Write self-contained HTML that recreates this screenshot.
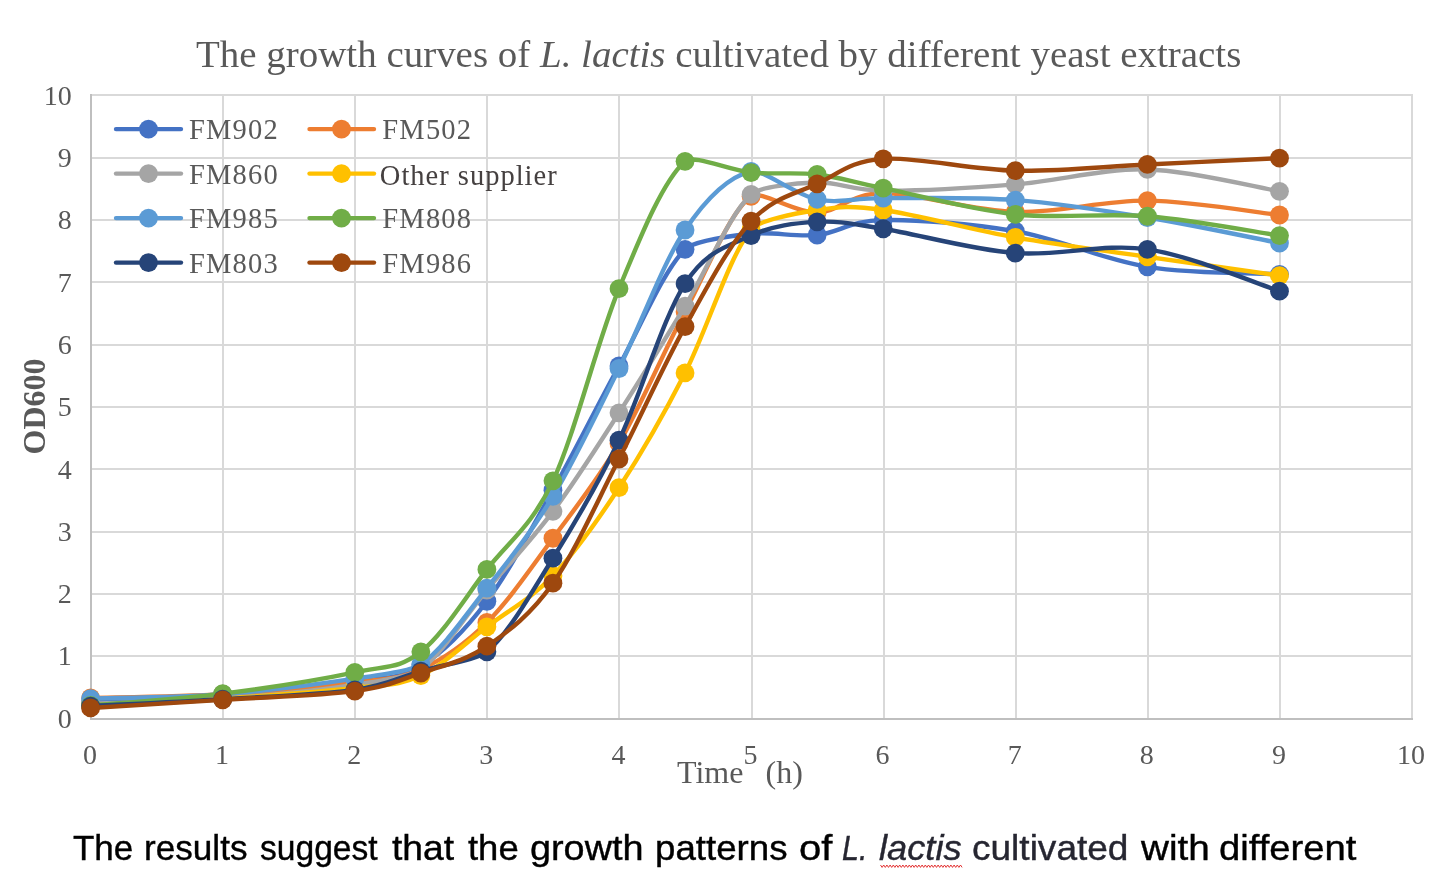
<!DOCTYPE html>
<html><head><meta charset="utf-8"><style>
html,body{margin:0;padding:0;background:#fff;}
body{width:1452px;height:886px;overflow:hidden;position:relative;}
svg.ch{position:absolute;left:0;top:0;will-change:transform;}
.serif{font-family:"Liberation Serif",serif;}
.lg{font-family:"Liberation Serif",serif;font-size:28.5px;fill:#595959;letter-spacing:1.2px;}
.cw{position:absolute;top:826.5px;font-family:"Liberation Sans",sans-serif;font-size:34.8px;line-height:42px;color:#000;white-space:nowrap;transform-origin:0 0;-webkit-text-stroke:0.4px currentColor;}
</style></head><body>
<svg class="ch" width="1452" height="886" viewBox="0 0 1452 886">
<text class="serif" x="196" y="67.2" font-size="38.96" fill="#595959">The growth curves of <tspan font-style="italic">L. lactis</tspan> cultivated by different yeast extracts</text>
<g stroke="#d9d9d9" stroke-width="2" fill="none">
<line x1="92.00" y1="656.00" x2="1413.00" y2="656.00"/>
<line x1="92.00" y1="594.00" x2="1413.00" y2="594.00"/>
<line x1="92.00" y1="532.00" x2="1413.00" y2="532.00"/>
<line x1="92.00" y1="469.00" x2="1413.00" y2="469.00"/>
<line x1="92.00" y1="407.00" x2="1413.00" y2="407.00"/>
<line x1="92.00" y1="345.00" x2="1413.00" y2="345.00"/>
<line x1="92.00" y1="282.00" x2="1413.00" y2="282.00"/>
<line x1="92.00" y1="220.00" x2="1413.00" y2="220.00"/>
<line x1="92.00" y1="158.00" x2="1413.00" y2="158.00"/>
<line x1="92.00" y1="95.00" x2="1413.00" y2="95.00"/>
<line x1="223.00" y1="94.00" x2="223.00" y2="719.00"/>
<line x1="355.00" y1="94.00" x2="355.00" y2="719.00"/>
<line x1="487.00" y1="94.00" x2="487.00" y2="719.00"/>
<line x1="619.00" y1="94.00" x2="619.00" y2="719.00"/>
<line x1="752.00" y1="94.00" x2="752.00" y2="719.00"/>
<line x1="884.00" y1="94.00" x2="884.00" y2="719.00"/>
<line x1="1016.00" y1="94.00" x2="1016.00" y2="719.00"/>
<line x1="1148.00" y1="94.00" x2="1148.00" y2="719.00"/>
<line x1="1280.00" y1="94.00" x2="1280.00" y2="719.00"/>
<line x1="1412.00" y1="94.00" x2="1412.00" y2="719.00"/>
</g>
<g stroke="#bfbfbf" stroke-width="2">
<line x1="91" y1="94.00" x2="91" y2="720"/>
<line x1="90" y1="719" x2="1413.00" y2="719"/>
</g>
<g class="serif" font-size="28" fill="#595959" text-anchor="end">
<text x="71.8" y="727.80">0</text>
<text x="71.8" y="665.49">1</text>
<text x="71.8" y="603.18">2</text>
<text x="71.8" y="540.87">3</text>
<text x="71.8" y="478.56">4</text>
<text x="71.8" y="416.25">5</text>
<text x="71.8" y="353.94">6</text>
<text x="71.8" y="291.63">7</text>
<text x="71.8" y="229.32">8</text>
<text x="71.8" y="167.01">9</text>
<text x="71.8" y="104.70">10</text>
</g>
<g class="serif" font-size="28" fill="#595959" text-anchor="middle">
<text x="90.00" y="764">0</text>
<text x="222.10" y="764">1</text>
<text x="354.20" y="764">2</text>
<text x="486.30" y="764">3</text>
<text x="618.40" y="764">4</text>
<text x="750.50" y="764">5</text>
<text x="882.60" y="764">6</text>
<text x="1014.70" y="764">7</text>
<text x="1146.80" y="764">8</text>
<text x="1278.90" y="764">9</text>
<text x="1411.00" y="764">10</text>
</g>
<text class="serif" x="677" y="783.2" font-size="32" fill="#595959">Time</text>
<text class="serif" x="765.5" y="783.2" font-size="32" fill="#595959">(h)</text>
<text class="serif" transform="translate(45.2,406.4) rotate(-90)" text-anchor="middle" font-size="32" font-weight="bold" fill="#595959">OD600</text>
<g fill="none" stroke-width="4.4" stroke-linecap="round" stroke-linejoin="round">
<path d="M90.60 702.35 C112.62 701.52 178.67 700.79 222.70 697.36 C266.73 693.93 321.77 686.96 354.80 681.76 C387.82 676.56 398.83 679.58 420.85 666.16 C442.87 652.74 464.88 630.59 486.90 601.26 C508.92 571.94 530.93 529.40 552.95 490.19 C574.97 450.98 596.98 406.16 619.00 366.02 C641.02 325.87 663.03 271.38 685.05 249.33 C693.04 241.32 729.08 236.12 751.10 233.73 C773.12 231.34 795.13 237.26 817.15 234.98 C839.17 232.69 850.17 220.62 883.20 220.00 C916.22 219.38 971.27 223.43 1015.30 231.23 C1059.33 239.03 1103.37 259.62 1147.40 266.80 C1191.43 273.98 1257.48 273.04 1279.50 274.29" stroke="#4472C4"/>
<circle cx="90.60" cy="702.35" r="9.4" fill="#4472C4"/>
<circle cx="222.70" cy="697.36" r="9.4" fill="#4472C4"/>
<circle cx="354.80" cy="681.76" r="9.4" fill="#4472C4"/>
<circle cx="420.85" cy="666.16" r="9.4" fill="#4472C4"/>
<circle cx="486.90" cy="601.26" r="9.4" fill="#4472C4"/>
<circle cx="552.95" cy="490.19" r="9.4" fill="#4472C4"/>
<circle cx="619.00" cy="366.02" r="9.4" fill="#4472C4"/>
<circle cx="685.05" cy="249.33" r="9.4" fill="#4472C4"/>
<circle cx="751.10" cy="233.73" r="9.4" fill="#4472C4"/>
<circle cx="817.15" cy="234.98" r="9.4" fill="#4472C4"/>
<circle cx="883.20" cy="220.00" r="9.4" fill="#4472C4"/>
<circle cx="1015.30" cy="231.23" r="9.4" fill="#4472C4"/>
<circle cx="1147.40" cy="266.80" r="9.4" fill="#4472C4"/>
<circle cx="1279.50" cy="274.29" r="9.4" fill="#4472C4"/>
<path d="M90.60 697.98 C112.62 697.36 178.67 696.84 222.70 694.24 C266.73 691.64 321.77 686.54 354.80 682.38 C387.82 678.22 398.83 679.26 420.85 669.28 C442.87 659.30 464.88 644.32 486.90 622.48 C508.92 600.64 530.93 568.09 552.95 538.24 C574.97 508.39 596.98 481.14 619.00 443.39 C641.02 405.64 663.03 352.91 685.05 311.73 C707.07 270.54 729.08 212.82 751.10 196.29 C760.17 189.48 795.13 213.03 817.15 212.51 C839.17 211.99 850.17 193.27 883.20 193.17 C916.22 193.06 971.27 210.64 1015.30 211.89 C1059.33 213.14 1103.37 200.14 1147.40 200.66 C1191.43 201.18 1257.48 212.62 1279.50 215.01" stroke="#ED7D31"/>
<circle cx="90.60" cy="697.98" r="9.4" fill="#ED7D31"/>
<circle cx="222.70" cy="694.24" r="9.4" fill="#ED7D31"/>
<circle cx="354.80" cy="682.38" r="9.4" fill="#ED7D31"/>
<circle cx="420.85" cy="669.28" r="9.4" fill="#ED7D31"/>
<circle cx="486.90" cy="622.48" r="9.4" fill="#ED7D31"/>
<circle cx="552.95" cy="538.24" r="9.4" fill="#ED7D31"/>
<circle cx="619.00" cy="443.39" r="9.4" fill="#ED7D31"/>
<circle cx="685.05" cy="311.73" r="9.4" fill="#ED7D31"/>
<circle cx="751.10" cy="196.29" r="9.4" fill="#ED7D31"/>
<circle cx="817.15" cy="212.51" r="9.4" fill="#ED7D31"/>
<circle cx="883.20" cy="193.17" r="9.4" fill="#ED7D31"/>
<circle cx="1015.30" cy="211.89" r="9.4" fill="#ED7D31"/>
<circle cx="1147.40" cy="200.66" r="9.4" fill="#ED7D31"/>
<circle cx="1279.50" cy="215.01" r="9.4" fill="#ED7D31"/>
<path d="M90.60 703.60 C112.62 702.77 178.67 701.73 222.70 698.61 C266.73 695.49 321.77 689.77 354.80 684.88 C387.82 679.99 411.66 675.88 420.85 669.28 C442.87 653.47 464.88 616.34 486.90 590.03 C508.92 563.72 530.93 540.94 552.95 511.41 C574.97 481.87 596.98 447.03 619.00 412.82 C641.02 378.60 663.03 342.51 685.05 306.11 C707.07 269.71 729.08 215.01 751.10 194.42 C759.27 186.77 795.13 183.18 817.15 182.56 C839.17 181.94 850.17 190.36 883.20 190.67 C916.22 190.98 971.27 187.97 1015.30 184.43 C1059.33 180.90 1103.37 168.31 1147.40 169.46 C1191.43 170.60 1257.48 187.66 1279.50 191.30" stroke="#A5A5A5"/>
<circle cx="90.60" cy="703.60" r="9.4" fill="#A5A5A5"/>
<circle cx="222.70" cy="698.61" r="9.4" fill="#A5A5A5"/>
<circle cx="354.80" cy="684.88" r="9.4" fill="#A5A5A5"/>
<circle cx="420.85" cy="669.28" r="9.4" fill="#A5A5A5"/>
<circle cx="486.90" cy="590.03" r="9.4" fill="#A5A5A5"/>
<circle cx="552.95" cy="511.41" r="9.4" fill="#A5A5A5"/>
<circle cx="619.00" cy="412.82" r="9.4" fill="#A5A5A5"/>
<circle cx="685.05" cy="306.11" r="9.4" fill="#A5A5A5"/>
<circle cx="751.10" cy="194.42" r="9.4" fill="#A5A5A5"/>
<circle cx="817.15" cy="182.56" r="9.4" fill="#A5A5A5"/>
<circle cx="883.20" cy="190.67" r="9.4" fill="#A5A5A5"/>
<circle cx="1015.30" cy="184.43" r="9.4" fill="#A5A5A5"/>
<circle cx="1147.40" cy="169.46" r="9.4" fill="#A5A5A5"/>
<circle cx="1279.50" cy="191.30" r="9.4" fill="#A5A5A5"/>
<path d="M90.60 705.47 C112.62 704.33 178.67 701.52 222.70 698.61 C266.73 695.70 321.77 691.85 354.80 688.00 C387.82 684.15 398.83 685.71 420.85 675.52 C442.87 665.33 464.88 643.49 486.90 626.85 C508.92 610.21 530.93 598.87 552.95 575.68 C574.97 552.49 596.98 521.50 619.00 487.70 C641.02 453.90 663.03 415.94 685.05 372.88 C707.07 329.82 729.08 256.50 751.10 229.36 C758.33 220.45 795.13 213.24 817.15 210.02 C839.17 206.79 850.17 205.44 883.20 210.02 C916.22 214.59 971.27 229.67 1015.30 237.47 C1059.33 245.27 1103.37 250.47 1147.40 256.82 C1191.43 263.16 1257.48 272.42 1279.50 275.54" stroke="#FFC000"/>
<circle cx="90.60" cy="705.47" r="9.4" fill="#FFC000"/>
<circle cx="222.70" cy="698.61" r="9.4" fill="#FFC000"/>
<circle cx="354.80" cy="688.00" r="9.4" fill="#FFC000"/>
<circle cx="420.85" cy="675.52" r="9.4" fill="#FFC000"/>
<circle cx="486.90" cy="626.85" r="9.4" fill="#FFC000"/>
<circle cx="552.95" cy="575.68" r="9.4" fill="#FFC000"/>
<circle cx="619.00" cy="487.70" r="9.4" fill="#FFC000"/>
<circle cx="685.05" cy="372.88" r="9.4" fill="#FFC000"/>
<circle cx="751.10" cy="229.36" r="9.4" fill="#FFC000"/>
<circle cx="817.15" cy="210.02" r="9.4" fill="#FFC000"/>
<circle cx="883.20" cy="210.02" r="9.4" fill="#FFC000"/>
<circle cx="1015.30" cy="237.47" r="9.4" fill="#FFC000"/>
<circle cx="1147.40" cy="256.82" r="9.4" fill="#FFC000"/>
<circle cx="1279.50" cy="275.54" r="9.4" fill="#FFC000"/>
<path d="M90.60 698.61 C112.62 697.88 178.67 697.57 222.70 694.24 C266.73 690.91 321.77 683.63 354.80 678.64 C387.82 673.65 411.55 670.66 420.85 664.29 C442.87 649.21 464.88 616.14 486.90 588.16 C508.92 560.18 530.93 533.04 552.95 496.43 C574.97 459.82 596.98 412.92 619.00 368.51 C641.02 324.10 663.03 262.85 685.05 229.98 C707.07 197.12 729.08 176.42 751.10 171.33 C762.76 168.63 795.13 194.94 817.15 199.41 C839.17 203.88 850.17 198.06 883.20 198.16 C916.22 198.26 971.27 196.81 1015.30 200.03 C1059.33 203.26 1103.37 210.33 1147.40 217.50 C1191.43 224.68 1257.48 238.82 1279.50 243.09" stroke="#5B9BD5"/>
<circle cx="90.60" cy="698.61" r="9.4" fill="#5B9BD5"/>
<circle cx="222.70" cy="694.24" r="9.4" fill="#5B9BD5"/>
<circle cx="354.80" cy="678.64" r="9.4" fill="#5B9BD5"/>
<circle cx="420.85" cy="664.29" r="9.4" fill="#5B9BD5"/>
<circle cx="486.90" cy="588.16" r="9.4" fill="#5B9BD5"/>
<circle cx="552.95" cy="496.43" r="9.4" fill="#5B9BD5"/>
<circle cx="619.00" cy="368.51" r="9.4" fill="#5B9BD5"/>
<circle cx="685.05" cy="229.98" r="9.4" fill="#5B9BD5"/>
<circle cx="751.10" cy="171.33" r="9.4" fill="#5B9BD5"/>
<circle cx="817.15" cy="199.41" r="9.4" fill="#5B9BD5"/>
<circle cx="883.20" cy="198.16" r="9.4" fill="#5B9BD5"/>
<circle cx="1015.30" cy="200.03" r="9.4" fill="#5B9BD5"/>
<circle cx="1147.40" cy="217.50" r="9.4" fill="#5B9BD5"/>
<circle cx="1279.50" cy="243.09" r="9.4" fill="#5B9BD5"/>
<path d="M90.60 705.47 C112.62 703.50 178.67 699.13 222.70 693.62 C266.73 688.10 321.77 679.37 354.80 672.40 C387.82 665.43 398.83 668.97 420.85 651.81 C442.87 634.65 464.88 597.94 486.90 569.44 C508.92 540.94 530.93 527.63 552.95 480.83 C574.97 434.03 596.98 341.89 619.00 288.64 C641.02 235.39 663.03 180.69 685.05 161.34 C693.44 153.97 729.08 170.39 751.10 172.58 C773.12 174.76 795.13 171.85 817.15 174.45 C839.17 177.05 850.17 181.52 883.20 188.18 C916.22 194.83 971.27 209.70 1015.30 214.38 C1059.33 219.06 1103.37 212.72 1147.40 216.26 C1191.43 219.79 1257.48 232.38 1279.50 235.60" stroke="#70AD47"/>
<circle cx="90.60" cy="705.47" r="9.4" fill="#70AD47"/>
<circle cx="222.70" cy="693.62" r="9.4" fill="#70AD47"/>
<circle cx="354.80" cy="672.40" r="9.4" fill="#70AD47"/>
<circle cx="420.85" cy="651.81" r="9.4" fill="#70AD47"/>
<circle cx="486.90" cy="569.44" r="9.4" fill="#70AD47"/>
<circle cx="552.95" cy="480.83" r="9.4" fill="#70AD47"/>
<circle cx="619.00" cy="288.64" r="9.4" fill="#70AD47"/>
<circle cx="685.05" cy="161.34" r="9.4" fill="#70AD47"/>
<circle cx="751.10" cy="172.58" r="9.4" fill="#70AD47"/>
<circle cx="817.15" cy="174.45" r="9.4" fill="#70AD47"/>
<circle cx="883.20" cy="188.18" r="9.4" fill="#70AD47"/>
<circle cx="1015.30" cy="214.38" r="9.4" fill="#70AD47"/>
<circle cx="1147.40" cy="216.26" r="9.4" fill="#70AD47"/>
<circle cx="1279.50" cy="235.60" r="9.4" fill="#70AD47"/>
<path d="M90.60 706.10 C112.62 704.95 178.67 701.94 222.70 699.23 C266.73 696.53 321.77 694.55 354.80 689.87 C387.82 685.19 398.83 677.50 420.85 671.15 C442.87 664.81 478.18 659.26 486.90 651.81 C508.92 632.98 530.93 593.46 552.95 558.21 C574.97 522.95 596.98 486.03 619.00 440.27 C641.02 394.51 663.03 317.76 685.05 283.65 C707.07 249.54 729.08 245.90 751.10 235.60 C773.12 225.30 795.13 223.02 817.15 221.87 C839.17 220.73 850.17 223.54 883.20 228.74 C916.22 233.94 971.27 249.64 1015.30 253.07 C1059.33 256.50 1103.37 242.98 1147.40 249.33 C1191.43 255.67 1257.48 284.17 1279.50 291.14" stroke="#264478"/>
<circle cx="90.60" cy="706.10" r="9.4" fill="#264478"/>
<circle cx="222.70" cy="699.23" r="9.4" fill="#264478"/>
<circle cx="354.80" cy="689.87" r="9.4" fill="#264478"/>
<circle cx="420.85" cy="671.15" r="9.4" fill="#264478"/>
<circle cx="486.90" cy="651.81" r="9.4" fill="#264478"/>
<circle cx="552.95" cy="558.21" r="9.4" fill="#264478"/>
<circle cx="619.00" cy="440.27" r="9.4" fill="#264478"/>
<circle cx="685.05" cy="283.65" r="9.4" fill="#264478"/>
<circle cx="751.10" cy="235.60" r="9.4" fill="#264478"/>
<circle cx="817.15" cy="221.87" r="9.4" fill="#264478"/>
<circle cx="883.20" cy="228.74" r="9.4" fill="#264478"/>
<circle cx="1015.30" cy="253.07" r="9.4" fill="#264478"/>
<circle cx="1147.40" cy="249.33" r="9.4" fill="#264478"/>
<circle cx="1279.50" cy="291.14" r="9.4" fill="#264478"/>
<path d="M90.60 707.97 C112.62 706.62 178.67 702.66 222.70 699.86 C266.73 697.05 321.77 695.59 354.80 691.12 C387.82 686.65 398.83 680.51 420.85 673.02 C442.87 665.54 464.88 661.17 486.90 646.19 C508.92 631.22 530.93 614.37 552.95 583.17 C574.97 551.97 596.98 501.74 619.00 458.99 C641.02 416.25 663.03 366.33 685.05 326.70 C707.07 287.08 729.08 245.06 751.10 221.25 C773.12 197.43 795.13 194.21 817.15 183.81 C839.17 173.41 850.17 161.03 883.20 158.85 C916.22 156.66 971.27 169.77 1015.30 170.70 C1059.33 171.64 1103.37 166.54 1147.40 164.46 C1191.43 162.38 1257.48 159.26 1279.50 158.22" stroke="#9E480E"/>
<circle cx="90.60" cy="707.97" r="9.4" fill="#9E480E"/>
<circle cx="222.70" cy="699.86" r="9.4" fill="#9E480E"/>
<circle cx="354.80" cy="691.12" r="9.4" fill="#9E480E"/>
<circle cx="420.85" cy="673.02" r="9.4" fill="#9E480E"/>
<circle cx="486.90" cy="646.19" r="9.4" fill="#9E480E"/>
<circle cx="552.95" cy="583.17" r="9.4" fill="#9E480E"/>
<circle cx="619.00" cy="458.99" r="9.4" fill="#9E480E"/>
<circle cx="685.05" cy="326.70" r="9.4" fill="#9E480E"/>
<circle cx="751.10" cy="221.25" r="9.4" fill="#9E480E"/>
<circle cx="817.15" cy="183.81" r="9.4" fill="#9E480E"/>
<circle cx="883.20" cy="158.85" r="9.4" fill="#9E480E"/>
<circle cx="1015.30" cy="170.70" r="9.4" fill="#9E480E"/>
<circle cx="1147.40" cy="164.46" r="9.4" fill="#9E480E"/>
<circle cx="1279.50" cy="158.22" r="9.4" fill="#9E480E"/>
</g>
<line x1="116.0" y1="129.1" x2="181.0" y2="129.1" stroke="#4472C4" stroke-width="4.4" stroke-linecap="round"/>
<circle cx="148.5" cy="129.1" r="9.4" fill="#4472C4"/>
<text x="189.0" y="139.2" class="lg">FM902</text>
<line x1="116.0" y1="173.6" x2="181.0" y2="173.6" stroke="#A5A5A5" stroke-width="4.4" stroke-linecap="round"/>
<circle cx="148.5" cy="173.6" r="9.4" fill="#A5A5A5"/>
<text x="189.0" y="183.7" class="lg">FM860</text>
<line x1="116.0" y1="218.1" x2="181.0" y2="218.1" stroke="#5B9BD5" stroke-width="4.4" stroke-linecap="round"/>
<circle cx="148.5" cy="218.1" r="9.4" fill="#5B9BD5"/>
<text x="189.0" y="228.2" class="lg">FM985</text>
<line x1="116.0" y1="262.6" x2="181.0" y2="262.6" stroke="#264478" stroke-width="4.4" stroke-linecap="round"/>
<circle cx="148.5" cy="262.6" r="9.4" fill="#264478"/>
<text x="189.0" y="272.7" class="lg">FM803</text>
<line x1="309.5" y1="129.1" x2="374.0" y2="129.1" stroke="#ED7D31" stroke-width="4.4" stroke-linecap="round"/>
<circle cx="341.5" cy="129.1" r="9.4" fill="#ED7D31"/>
<text x="382.3" y="139.2" class="lg">FM502</text>
<line x1="309.5" y1="173.6" x2="374.0" y2="173.6" stroke="#FFC000" stroke-width="4.4" stroke-linecap="round"/>
<circle cx="341.5" cy="173.6" r="9.4" fill="#FFC000"/>
<text x="379.8" y="184.8" class="lg" style="letter-spacing:1px;fill:#454040">Other supplier</text>
<line x1="309.5" y1="218.1" x2="374.0" y2="218.1" stroke="#70AD47" stroke-width="4.4" stroke-linecap="round"/>
<circle cx="341.5" cy="218.1" r="9.4" fill="#70AD47"/>
<text x="382.3" y="228.2" class="lg">FM808</text>
<line x1="309.5" y1="262.6" x2="374.0" y2="262.6" stroke="#9E480E" stroke-width="4.4" stroke-linecap="round"/>
<circle cx="341.5" cy="262.6" r="9.4" fill="#9E480E"/>
<text x="382.3" y="272.7" class="lg">FM986</text>
</svg>
<span class="cw" style="left:72.63px;transform:scaleX(1.0052);">The</span>
<span class="cw" style="left:143.55px;transform:scaleX(1.0094);">results</span>
<span class="cw" style="left:259.87px;transform:scaleX(0.9650);">suggest</span>
<span class="cw" style="left:392.40px;transform:scaleX(1.0690);">that</span>
<span class="cw" style="left:468.00px;transform:scaleX(1.0471);">the</span>
<span class="cw" style="left:530.25px;transform:scaleX(1.0867);">growth</span>
<span class="cw" style="left:654.86px;transform:scaleX(1.0540);">patterns</span>
<span class="cw" style="left:798.79px;transform:scaleX(1.1522);">of</span>
<span class="cw" style="left:842.46px;transform:scaleX(0.8731);font-style:italic;color:#262631;">L.</span>
<span class="cw" style="left:879.49px;transform:scaleX(1.0422);font-style:italic;color:#262631;">lactis</span>
<span class="cw" style="left:971.97px;transform:scaleX(1.0643);color:#262631;">cultivated</span>
<span class="cw" style="left:1140.80px;transform:scaleX(1.1096);">with</span>
<span class="cw" style="left:1219.24px;transform:scaleX(1.0991);">different</span>
<svg style="position:absolute;left:0;top:0" width="1452" height="886"><polyline points="880.5,865.0 882.1,867.4 883.7,865.0 885.3,867.4 886.9,865.0 888.5,867.4 890.1,865.0 891.7,867.4 893.3,865.0 894.9,867.4 896.5,865.0 898.1,867.4 899.7,865.0 901.3,867.4 902.9,865.0 904.5,867.4 906.1,865.0 907.7,867.4 909.3,865.0 910.9,867.4 912.5,865.0 914.1,867.4 915.7,865.0 917.3,867.4 918.9,865.0 920.5,867.4 922.1,865.0 923.7,867.4 925.3,865.0 926.9,867.4 928.5,865.0 930.1,867.4 931.7,865.0 933.3,867.4 934.9,865.0 936.5,867.4 938.1,865.0 939.7,867.4 941.3,865.0 942.9,867.4 944.5,865.0 946.1,867.4 947.7,865.0 949.3,867.4 950.9,865.0 952.5,867.4 954.1,865.0 955.7,867.4 957.3,865.0 958.9,867.4 960.5,865.0 962.1,867.4" fill="none" stroke="#e02020" stroke-width="0.9"/></svg>
</body></html>
